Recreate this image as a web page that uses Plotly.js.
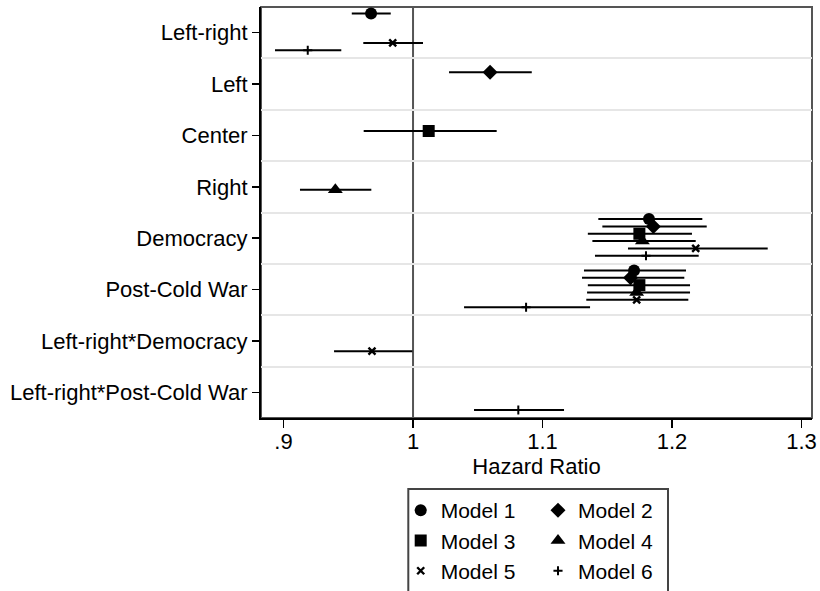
<!DOCTYPE html>
<html>
<head>
<meta charset="utf-8">
<script src="https://cdn.plot.ly/plotly-3.0.1.min.js"></script>
<style>html,body{margin:0;padding:0;background:#fff;}#chart{width:820px;height:591px;}</style>
</head>
<body>
<div id="chart"></div>
<script>
// ---- data ----
const categories = ["Left-right", "Left", "Center", "Right", "Democracy", "Post-Cold War", "Left-right*Democracy", "Left-right*Post-Cold War"];
const modelNames = ["Model 1", "Model 2", "Model 3", "Model 4", "Model 5", "Model 6"];

const m1Est = [0.9676, null, null, null, 1.1822, 1.1707, null, null];
const m1Lo  = [0.9527, null, null, null, 1.1431, 1.1320, null, null];
const m1Hi  = [0.9828, null, null, null, 1.2234, 1.2108, null, null];

const m2Est = [null, 1.0595, null, null, 1.1856, 1.1680, null, null];
const m2Lo  = [null, 1.0278, null, null, 1.1462, 1.1305, null, null];
const m2Hi  = [null, 1.0917, null, null, 1.2268, 1.2095, null, null];

const m3Est = [null, null, 1.0121, null, 1.1748, 1.1748, null, null];
const m3Lo  = [null, null, 0.9619, null, 1.1350, 1.1350, null, null];
const m3Hi  = [null, null, 1.0646, null, 1.2154, 1.2139, null, null];

const m4Est = [null, null, null, 0.9400, 1.1771, 1.1727, null, null];
const m4Lo  = [null, null, null, 0.9127, 1.1385, 1.1344, null, null];
const m4Hi  = [null, null, null, 0.9678, 1.2183, 1.2139, null, null];

const m5Est = [0.9843, null, null, null, 1.2183, 1.1727, 0.9683, null];
const m5Lo  = [0.9616, null, null, null, 1.1660, 1.1338, 0.9390, null];
const m5Hi  = [1.0077, null, null, null, 1.2739, 1.2126, 0.9995, null];

const m6Est = [0.9187, null, null, null, 1.1799, 1.0873, null, 1.0813];
const m6Lo  = [0.8934, null, null, null, 1.1405, 1.0394, null, 1.0471];
const m6Hi  = [0.9446, null, null, null, 1.2206, 1.1367, null, 1.1166];

const xTickVals = [0.9, 1, 1.1, 1.2, 1.3];
const xTickText = [".9", "1", "1.1", "1.2", "1.3"];
const refValue = 1;

// ---- styles ----
const models = [
  {est: m1Est, lo: m1Lo, hi: m1Hi},
  {est: m2Est, lo: m2Lo, hi: m2Hi},
  {est: m3Est, lo: m3Lo, hi: m3Hi},
  {est: m4Est, lo: m4Lo, hi: m4Hi},
  {est: m5Est, lo: m5Lo, hi: m5Hi},
  {est: m6Est, lo: m6Lo, hi: m6Hi}
];
const markerStyles = [
  {symbol: "circle", size: 12, color: "#000"},
  {symbol: "diamond", size: 11.5, color: "#000"},
  {symbol: "square", size: 12, color: "#000"},
  {symbol: "triangle-up", size: 13, color: "#000"},
  {symbol: "x-thin", size: 7, color: "#000", line: {color: "#000", width: 2.4}},
  {symbol: "cross-thin", size: 6.5, color: "#000", line: {color: "#000", width: 2}}
];
const FONT = "Liberation Sans, Arial, Helvetica, sans-serif";
const FS = 22;

const traces = models.map((m, k) => {
  const offset = -0.372 + 0.143 * k;
  const x = [], y = [], plus = [], minus = [];
  m.est.forEach((v, i) => {
    if (v === null) return;
    x.push(v);
    y.push(i + offset);
    plus.push(m.hi[i] - v);
    minus.push(v - m.lo[i]);
  });
  return {
    type: "scatter",
    mode: "markers",
    name: modelNames[k],
    x: x, y: y,
    legend: (k % 2 === 0) ? "legend" : "legend2",
    marker: markerStyles[k],
    error_x: {type: "data", symmetric: false, array: plus, arrayminus: minus,
              width: 0, thickness: 2, color: "#000"},
    hoverinfo: "x+name"
  };
});

const W = 820, H = 591, L = 261, R = 8, T = 7, B = 173;
const pw = W - L - R, ph = H - T - B;
const px = v => (v - L) / pw;
const py = v => (H - B - v) / ph;

const legendCommon = {
  orientation: "v", bgcolor: "rgba(0,0,0,0)", borderwidth: 0,
  font: {family: FONT, size: 21, color: "#000"},
  xanchor: "left", yanchor: "top", itemwidth: 30
};

const layout = {
  width: W, height: H,
  margin: {l: L, r: R, t: T, b: B, pad: 0, autoexpand: false},
  paper_bgcolor: "#fff", plot_bgcolor: "#fff",
  font: {family: FONT, size: FS, color: "#000"},
  showlegend: true,
  legend: Object.assign({}, legendCommon, {x: px(400.7), y: py(490)}),
  legend2: Object.assign({}, legendCommon, {x: px(538), y: py(490)}),
  xaxis: {
    range: [0.8826, 1.3081],
    tickmode: "array", tickvals: xTickVals, ticktext: xTickText,
    ticks: "outside", ticklen: 8, tickwidth: 1.5, tickcolor: "#000",
    ticklabelstandoff: -5,
    showgrid: false, zeroline: false,
    showline: true, linecolor: "#000", linewidth: 2,
    tickfont: {family: FONT, size: FS, color: "#000"},
    title: {text: "Hazard Ratio", font: {family: FONT, size: FS, color: "#000"}, standoff: 2}
  },
  yaxis: {
    range: [7.5, -0.5],
    tickmode: "array", tickvals: categories.map((c, i) => i), ticktext: categories,
    ticks: "outside", ticklen: 7, tickwidth: 1.5, tickcolor: "#000",
    showgrid: false, zeroline: false,
    showline: true, linecolor: "#000", linewidth: 2,
    tickfont: {family: FONT, size: FS, color: "#000"},
    minor: {tickmode: "linear", tick0: 0.5, dtick: 1, showgrid: true,
            gridcolor: "#e6e6e6", gridwidth: 2, ticks: ""}
  },
  shapes: [
    {type: "rect", xref: "paper", yref: "paper", x0: 0, x1: 1, y0: 0, y1: 1,
     line: {color: "#555", width: 2}, layer: "below"},
    {type: "line", xref: "x", yref: "paper", x0: refValue, x1: refValue, y0: 0, y1: 1,
     line: {color: "#555", width: 2}, layer: "below"},
    {type: "rect", xref: "paper", yref: "paper",
     x0: px(408.3), x1: px(668), y0: py(489), y1: py(610),
     line: {color: "#444", width: 2}, layer: "above"}
  ]
};

Plotly.newPlot("chart", traces, layout, {staticPlot: true, displayModeBar: false});
</script>
</body>
</html>
